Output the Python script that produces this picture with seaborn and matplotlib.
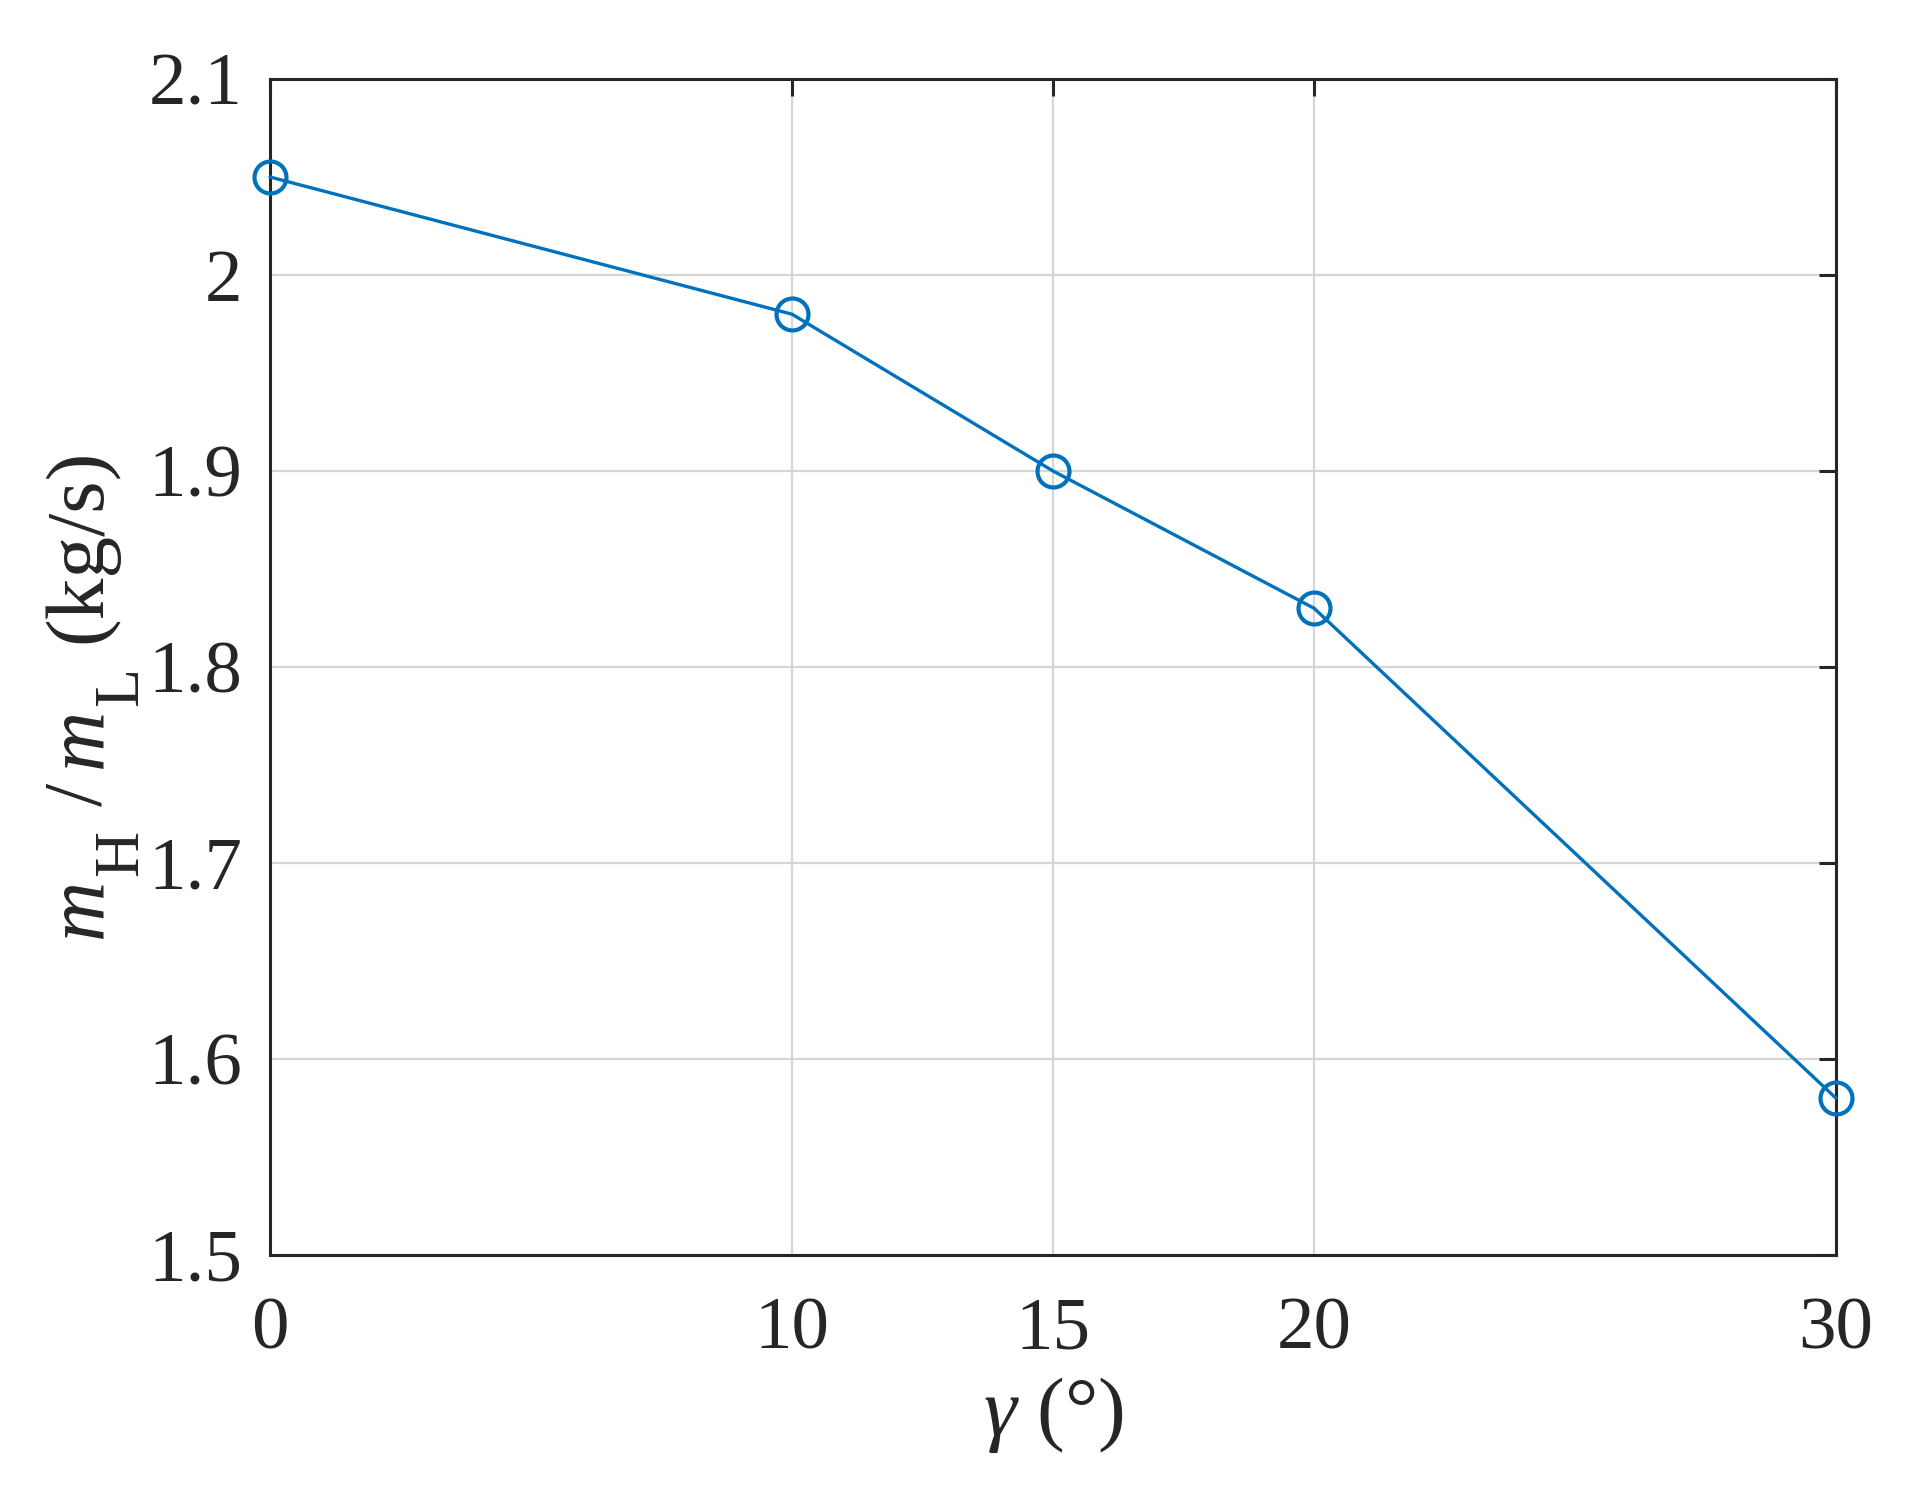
import numpy as np
import pandas as pd
import seaborn as sns
import matplotlib
matplotlib.use("Agg")
import matplotlib.pyplot as plt
from matplotlib.ticker import FormatStrFormatter
from matplotlib.transforms import IdentityTransform

# data
gamma = [0, 10, 15, 20, 30]
mass_ratio = [2.05, 1.98, 1.90, 1.83, 1.58]
x_ticks = [0, 10, 15, 20, 30]
y_ticks = [1.5, 1.6, 1.7, 1.8, 1.9, 2.0, 2.1]

df = pd.DataFrame({"gamma": gamma, "ratio": mass_ratio})

sns.set_theme(style="white")
plt.rcParams["font.family"] = ["Liberation Serif", "DejaVu Serif"]
plt.rcParams["mathtext.fontset"] = "custom"
plt.rcParams["mathtext.rm"] = "Liberation Serif"
plt.rcParams["mathtext.it"] = "Liberation Serif:italic"

ink = "#262626"
blue = "#0072BD"

W, H = 1922, 1489
fig, ax = plt.subplots(figsize=(W / 200, H / 200), dpi=200)
fig.subplots_adjust(left=270 / W, right=1836 / W,
                    top=1 - 79 / H, bottom=1 - 1255 / H)

sns.lineplot(data=df, x="gamma", y="ratio", ax=ax, color=blue, linewidth=1.2,
             marker="o", markersize=11.5, markerfacecolor="none",
             markeredgecolor=blue, markeredgewidth=1.5, zorder=3, clip_on=False)

ax.set_xlim(0, 30)
ax.set_ylim(1.5, 2.1)
ax.set_xticks(x_ticks)
ax.set_yticks(y_ticks)
ax.yaxis.set_major_formatter(FormatStrFormatter("%g"))

ax.grid(True, color="#d6d6d6", linewidth=0.8)
ax.set_axisbelow(True)
for s in ax.spines.values():
    s.set_color(ink)
    s.set_linewidth(1.1)
    s.set_visible(True)

ax.tick_params(direction="in", length=6, width=1.1, colors=ink,
               labelsize=27, top=True, right=True)
ax.tick_params(axis="x", pad=15)
ax.tick_params(axis="y", pad=10)

ax.set_xlabel(r"$\it{\gamma}$ (°)", fontsize=30, color=ink, labelpad=4)
ax.set_ylabel("")

# y label built piece by piece: MATLAB-style subscripts sit low and large
fig.canvas.draw()
renderer = fig.canvas.get_renderer()
pieces = [
    ("m", "italic", 30, 100, 2),
    ("H", "normal", 23, 137, 24),
    ("/", "normal", 30, 100, 14),
    ("m", "italic", 30, 100, 2),
    ("L", "normal", 23, 137, 24),
    ("(kg/s)", "normal", 30, 100, 0),
]
y_cur = H - 938
for txt, style, size, xb, gap in pieces:
    t = fig.text(xb, y_cur, txt, transform=IdentityTransform(), rotation=90,
                 rotation_mode="anchor", ha="left", va="baseline",
                 fontsize=size, style=style, color=ink)
    bb = t.get_window_extent(renderer)
    y_cur += bb.height + gap

fig.savefig("out.png", dpi=200)
